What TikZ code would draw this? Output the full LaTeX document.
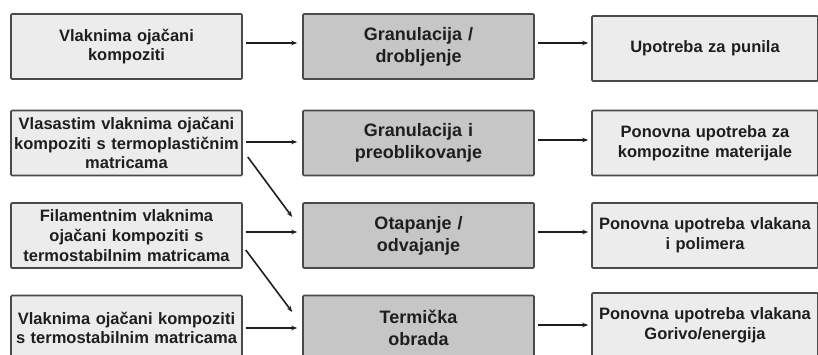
\documentclass[tikz,border=0pt]{standalone}
\usepackage{fontspec}
\setmainfont{Liberation Sans}
\usetikzlibrary{arrows.meta}
\definecolor{lightbox}{HTML}{ECECEC}
\definecolor{darkbox}{HTML}{C6C6C6}
\definecolor{edge}{HTML}{4A4A4A}
\definecolor{ink}{HTML}{1E1E1E}
\begin{document}
\begin{tikzpicture}[x=1pt,y=-1pt,
  box/.style={draw=edge,line width=1.6pt,rounded corners=1pt,minimum height=65pt,
    text=ink,align=center,inner sep=1pt},
  lbox/.style={box,fill=lightbox,minimum width=231pt,text width=229pt,
    font=\bfseries\fontsize{16.5}{19.7}\selectfont},
  mbox/.style={box,fill=darkbox,minimum width=231pt,text width=229pt,
    font=\bfseries\fontsize{18}{22}\selectfont},
  rbox/.style={box,fill=lightbox,minimum width=226pt,text width=224pt,
    font=\bfseries\fontsize{16.5}{20}\selectfont},
  conn/.style={draw=ink,line width=1.6pt,-{Stealth[length=6pt,width=4.5pt]}}
]
\clip (0,0) rectangle (818,355);
\fill[white] (0,0) rectangle (818,355);
% left column
\node[lbox] (l1) at (126.5,46.5) {Vlaknima ojačani\\kompoziti};
\node[lbox] (l2) at (126.5,143) {Vlasastim vlaknima ojačani\\kompoziti s termoplastičnim\\matricama};
\node[lbox] (l3) at (126.5,235.5) {Filamentnim vlaknima\\ojačani kompoziti s\\termostabilnim matricama};
\node[lbox] (l4) at (126.5,328) {Vlaknima ojačani kompoziti\\s termostabilnim matricama};
% middle column
\node[mbox] (m1) at (418.5,46.5) {Granulacija /\\drobljenje};
\node[mbox] (m2) at (418.5,143) {Granulacija i\\preoblikovanje};
\node[mbox] (m3) at (418.5,235.5) {Otapanje /\\odvajanje};
\node[mbox] (m4) at (418.5,328) {Termička\\obrada};
% right column
\node[rbox] (r1) at (705,48.5) {Upotreba za punila};
\node[rbox] (r2) at (705,143) {Ponovna upotreba za\\kompozitne materijale};
\node[rbox] (r3) at (705,235.5) {Ponovna upotreba vlakana\\i polimera};
\node[rbox] (r4) at (705,325.5) {Ponovna upotreba vlakana\\Gorivo/energija};
% horizontal arrows
\foreach \a/\b/\y in {l1/m1/43,l2/m2/142,l3/m3/232,l4/m4/328}{
  \draw[conn,shorten <=3pt,shorten >=5pt] (\a.east |- 0,\y) -- (\b.west |- 0,\y);
}
\foreach \a/\b/\y in {m1/r1/43,m2/r2/140,m3/r3/232,m4/r4/325}{
  \draw[conn,shorten <=3pt,shorten >=3pt] (\a.east |- 0,\y) -- (\b.west |- 0,\y);
}
% diagonal arrows
\coordinate (d1s) at ([xshift=5pt,yshift=-14pt]l2.east);
\coordinate (d1e) at ([xshift=-10pt,yshift=18.5pt]m3.west);
\draw[conn] (d1s) -- (d1e);
\coordinate (d2s) at ([xshift=3pt,yshift=-14.5pt]l3.east);
\coordinate (d2e) at ([xshift=-10pt,yshift=16pt]m4.west);
\draw[conn] (d2s) -- (d2e);
\end{tikzpicture}
\end{document}
